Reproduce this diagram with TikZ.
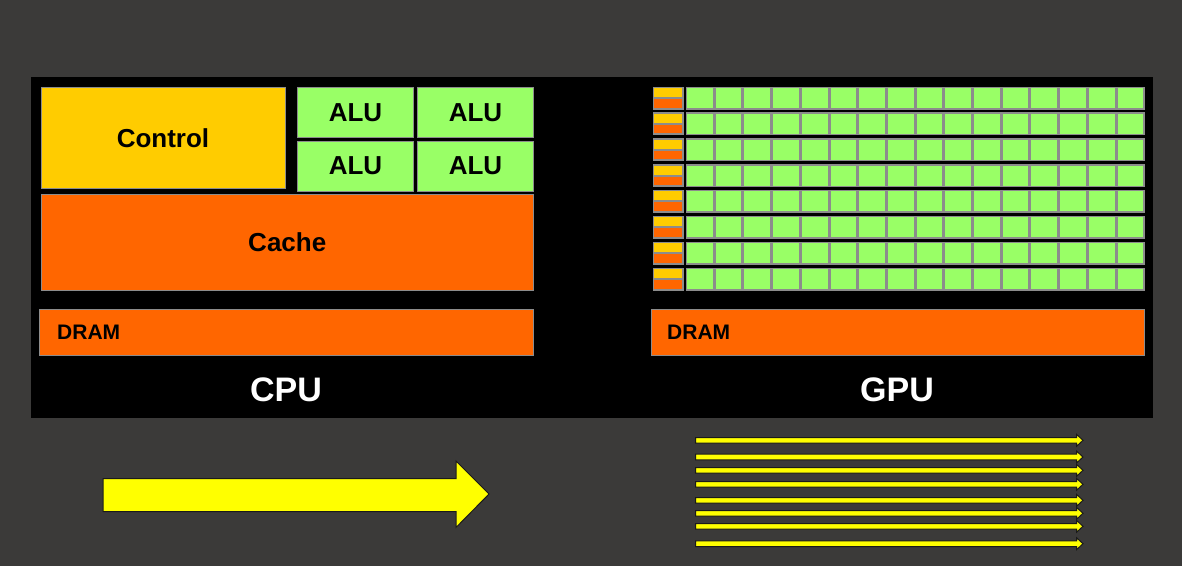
\documentclass[tikz,border=0pt]{standalone}
\usepackage{fontspec}
\setmainfont{Liberation Sans}
\definecolor{bgc}{HTML}{3B3A39}
\definecolor{ctrlc}{HTML}{FFCC00}
\definecolor{aluc}{HTML}{99FF66}
\definecolor{cachec}{HTML}{FF6600}
\definecolor{edgec}{HTML}{8C8C8C}
\definecolor{arrc}{HTML}{FFFF00}
\definecolor{arredge}{HTML}{1A1A1A}
\begin{document}
\begin{tikzpicture}[x=1pt,y=-1pt,
  box/.style={draw=edgec, line width=1pt, inner sep=0pt, anchor=north west,
    font=\bfseries\fontsize{26}{30}\selectfont, text=black},
  ctrlbox/.style={box, fill=ctrlc},
  alubox/.style={box, fill=aluc},
  cachebox/.style={box, fill=cachec},
  cellbox/.style={draw=edgec, line width=1.5pt, fill=aluc, inner sep=0pt, anchor=north west,
    minimum width=27.25pt, minimum height=21.5pt},
  dramlbl/.style={anchor=west, inner sep=0pt, font=\bfseries\fontsize{21}{25}\selectfont, text=black},
  title/.style={inner sep=0pt, font=\bfseries\fontsize{34}{40}\selectfont, text=white},
  bigarrow/.style={fill=arrc, draw=arredge, line width=1pt, line join=miter},
  thinarrow/.style={fill=arrc, draw=arredge, line width=1pt, line join=miter}]
\fill[bgc] (0,0) rectangle (1182,566);
\useasboundingbox (0,0) rectangle (1182,566);
\fill[black] (31,77) rectangle (1153,418);

% CPU
\node[ctrlbox, minimum width=244pt, minimum height=101pt] (control) at (40.5,87) {Control};
\node[alubox, minimum width=116pt, minimum height=50pt] (alu1) at (297,87) {ALU};
\node[alubox, minimum width=116pt, minimum height=50pt] (alu2) at (417,87) {ALU};
\node[alubox, minimum width=116pt, minimum height=50pt] (alu3) at (297,140.5) {ALU};
\node[alubox, minimum width=116pt, minimum height=50pt] (alu4) at (417,140.5) {ALU};
\node[cachebox, minimum width=492.5pt, minimum height=96pt] (cache) at (40.5,193.5) {Cache};
\node[cachebox, minimum width=494pt, minimum height=46pt] (cpudram) at (39,309) {};
\node[dramlbl] (cpudramlbl) at ([xshift=18pt]cpudram.west) {DRAM};
\node[title] (cpu) at (286,390) {CPU};

% GPU
\foreach \r in {0,...,7}{
  \pgfmathsetmacro{\yy}{86.5+25.86*\r}
  \node[box, fill=edgec, minimum width=30pt, minimum height=22pt] (g\r) at (652.5,\yy) {};
  \fill[ctrlc] (653.5,\yy+1.5) rectangle (681.5,\yy+10.5);
  \fill[cachec] (653.5,\yy+12.5) rectangle (681.5,\yy+21);
  \foreach \c in {0,...,15}{
    \node[cellbox] (g\r-\c) at (685.5+28.7*\c,\yy) {};
  }
}
\node[cachebox, minimum width=493pt, minimum height=46pt] (gpudram) at (651,309) {};
\node[dramlbl] (gpudramlbl) at ([xshift=16pt]gpudram.west) {DRAM};
\node[title] (gpu) at (897,390) {GPU};

% arrows
\draw[bigarrow] (103,478.5) -- (456,478.5) -- (456,461) -- (489,494) -- (456,527.5) -- (456,511.5) -- (103,511.5) -- cycle;
\foreach \y in {440.3,457,470.3,484.3,500.3,513.3,526.3,543.7}{
  \draw[thinarrow] (695.5,\y-2.8) -- (1076.5,\y-2.8) -- (1076.5,\y-6) -- (1083,\y) -- (1076.5,\y+6) -- (1076.5,\y+2.8) -- (695.5,\y+2.8) -- cycle;
}
\end{tikzpicture}
\end{document}
